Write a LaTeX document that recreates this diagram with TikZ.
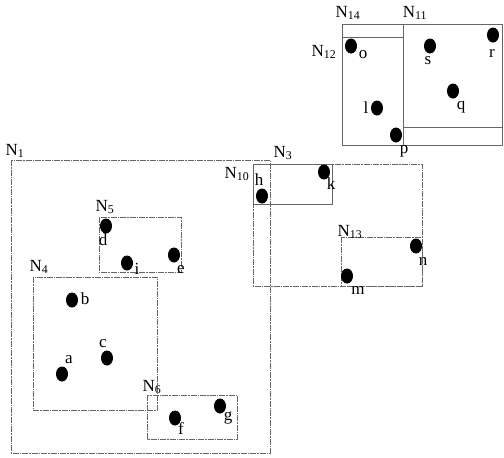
\documentclass[tikz,border=0pt]{standalone}
\usepackage{fontspec}
\setmainfont{Liberation Serif}
\usetikzlibrary{positioning,shapes.geometric}

\tikzset{
  box/.style={draw=black!60, line width=0.6pt},
  dbox/.style={box, dash pattern=on 6pt off 1pt on 1.5pt off 1pt},
  pt/.style={ellipse, fill=black, inner sep=0pt, minimum width=12pt, minimum height=15pt},
  lab/.style={inner sep=0pt}
}

\begin{document}
\begin{tikzpicture}[x=1pt, y=-1pt, font=\fontsize{17}{19}\selectfont]
\useasboundingbox (0,0) rectangle (504,458);
% bounding rectangles
\draw[dbox] (11,160) rectangle (270,453);
\draw[dbox] (99,217) rectangle (181,272);
\draw[dbox] (33,277) rectangle (157,410);
\draw[dbox] (147,395) rectangle (237,439);
\draw[dbox] (253,164) rectangle (422,286);
\draw[box] (253,164) rectangle (332,204);
\draw[dbox] (341,237) rectangle (422,286);
\draw[box] (342,24) rectangle (502,145);
\draw[box] (403,24) rectangle (502,127);
\draw[box] (342,37) rectangle (403,145);
% rectangle names
\foreach \n/\x/\y/\s in {n1/15/151/1, n5/105/207/5, n4/39/267/4, n6/152/387/6,
    n3/283/153/3, n10/237/174/{10}, n13/350/232/{13}, n14/348/13/{14},
    n11/415/13/{11}, n12/324/52/{12}}
  \node[lab] (\n) at (\x,\y) {N\textsubscript{\s}};
% data points
\foreach \p/\x/\y in {a/62/374, b/72/300, c/107/358, d/106/226, e/174/255,
    f/175/418, g/220/406, h/262/196, i/127/263, k/324/172, l/377/108,
    m/347/276, n/416/246, o/351/46, p/396/135, q/453/91, r/493/35, s/430/46}
  \node[pt] (\p) at (\x,\y) {};
% point names
\foreach \p/\x/\y in {a/69/360, b/85/299, c/103/344, d/103/240, e/181/270,
    f/181/429, g/228/418, h/259/180, i/137/269, k/331/184, l/366/108,
    m/358/290, n/423/261, o/363/55, p/404/151, q/461/107, r/492/53, s/428/61}
  \node[lab] (l\p) at (\x,\y) {\p};
\end{tikzpicture}
\end{document}
